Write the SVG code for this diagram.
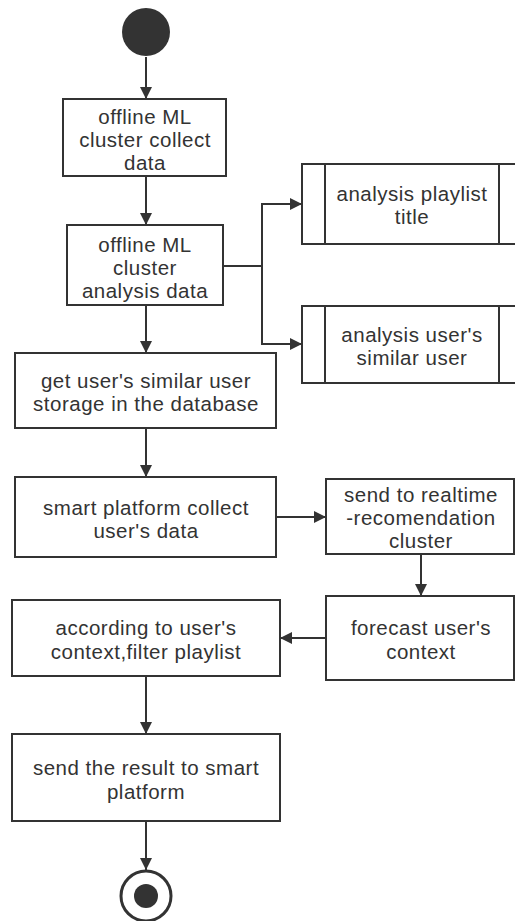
<svg xmlns="http://www.w3.org/2000/svg" width="515" height="921" viewBox="0 0 515 921">
<defs>
<style>
.n{fill:#fff;stroke:#333;stroke-width:2}
.l{fill:none;stroke:#333;stroke-width:2}
text{font-family:"Liberation Sans",Arial,sans-serif;font-size:20.5px;letter-spacing:0.5px;fill:#333;text-anchor:middle;dominant-baseline:central}
</style>
<marker id="a" viewBox="0 0 12 12" refX="12" refY="6" markerWidth="12" markerHeight="12" markerUnits="userSpaceOnUse" orient="auto">
<path d="M0,0 L12,6 L0,12 z" fill="#333"/>
</marker>
</defs>
<rect width="515" height="921" fill="#fff"/>
<g id="connectors">
<line class="l" x1="146" y1="57" x2="146" y2="99" marker-end="url(#a)"/>
<line class="l" x1="146" y1="176" x2="146" y2="225" marker-end="url(#a)"/>
<polyline class="l" points="223,266 262,266 262,204 302,204" marker-end="url(#a)"/>
<polyline class="l" points="262,266 262,344 302,344" marker-end="url(#a)"/>
<line class="l" x1="146" y1="305" x2="146" y2="353" marker-end="url(#a)"/>
<line class="l" x1="146" y1="428" x2="146" y2="477" marker-end="url(#a)"/>
<line class="l" x1="276" y1="517" x2="326" y2="517" marker-end="url(#a)"/>
<line class="l" x1="421" y1="554" x2="421" y2="596" marker-end="url(#a)"/>
<line class="l" x1="326" y1="638" x2="280" y2="638" marker-end="url(#a)"/>
<line class="l" x1="146" y1="676" x2="146" y2="734" marker-end="url(#a)"/>
<line class="l" x1="146" y1="821" x2="146" y2="870" marker-end="url(#a)"/>
</g>
<g id="start"><circle cx="146" cy="32" r="24" fill="#333"/></g>
<g id="n1"><rect class="n" x="63" y="99" width="163" height="77"/>
<text x="145" y="116">offline ML</text><text x="145" y="139">cluster collect</text><text x="145" y="162">data</text></g>
<g id="n2"><rect class="n" x="67" y="225" width="156" height="80"/>
<text x="145" y="244">offline ML</text><text x="145" y="267">cluster</text><text x="145" y="290">analysis data</text></g>
<g id="n3"><rect class="n" x="302" y="164" width="220" height="80"/>
<line class="l" x1="325" y1="164" x2="325" y2="244"/><line class="l" x1="499" y1="164" x2="499" y2="244"/>
<text x="412" y="193">analysis playlist</text><text x="412" y="216">title</text></g>
<g id="n4"><rect class="n" x="302" y="306" width="220" height="77"/>
<line class="l" x1="325" y1="306" x2="325" y2="383"/><line class="l" x1="499" y1="306" x2="499" y2="383"/>
<text x="412" y="334">analysis user's</text><text x="412" y="357">similar user</text></g>
<g id="n5"><rect class="n" x="15" y="353" width="261" height="75"/>
<text x="146" y="380">get user's similar user</text><text x="146" y="403">storage in the database</text></g>
<g id="n6"><rect class="n" x="15" y="477" width="261" height="80"/>
<text x="146" y="507">smart platform collect</text><text x="146" y="530">user's data</text></g>
<g id="n7"><rect class="n" x="326" y="479" width="188" height="75"/>
<text x="421" y="494">send to realtime</text><text x="421" y="517">-recomendation</text><text x="421" y="540">cluster</text></g>
<g id="n8"><rect class="n" x="326" y="596" width="188" height="84"/>
<text x="421" y="627">forecast user's</text><text x="421" y="651">context</text></g>
<g id="n9"><rect class="n" x="12" y="600" width="268" height="76"/>
<text x="146" y="627">according to user's</text><text x="146" y="651">context,filter playlist</text></g>
<g id="n10"><rect class="n" x="12" y="734" width="268" height="87"/>
<text x="146" y="767">send the result to smart</text><text x="146" y="791">platform</text></g>
<g id="end"><circle cx="146" cy="896" r="25" fill="#fff" stroke="#333" stroke-width="3"/><circle cx="146" cy="896" r="12" fill="#333"/></g>
</svg>
